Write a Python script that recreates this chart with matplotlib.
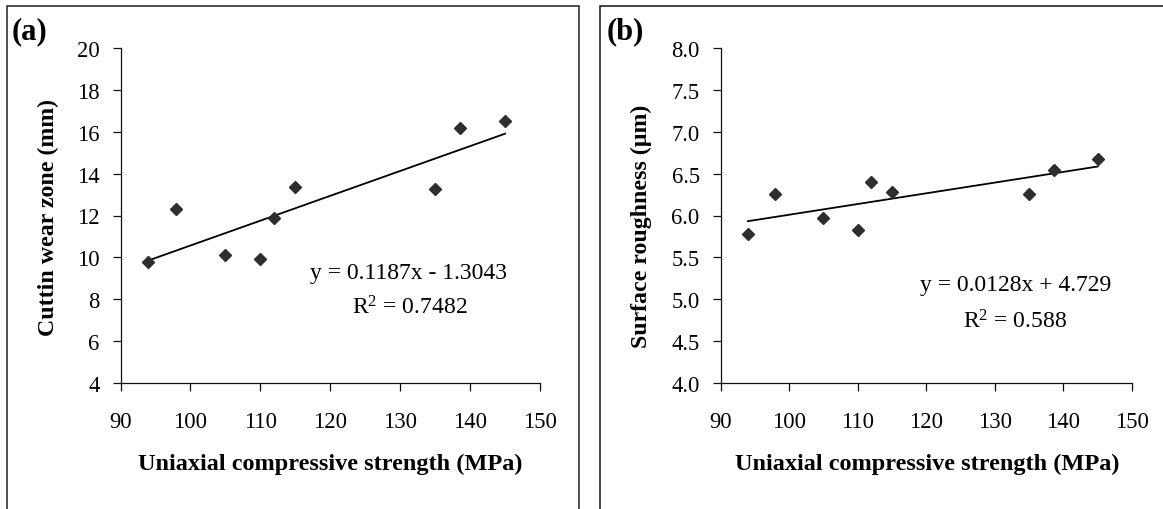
import numpy as np
import matplotlib.pyplot as plt
from matplotlib.patches import Rectangle

plt.rcParams['font.family'] = ['Liberation Serif', 'DejaVu Serif']
plt.rcParams['mathtext.fontset'] = 'custom'
plt.rcParams['mathtext.rm'] = 'Liberation Serif'
plt.rcParams['mathtext.it'] = 'Liberation Serif:italic'

# Uniaxial compressive strength (MPa)
ucs = [94, 98, 105, 110, 112, 115, 135, 138.6, 145]

# (a) cutting wear zone (mm)
wear = [9.8, 12.3, 10.1, 9.9, 11.9, 13.35, 13.25, 16.2, 16.5]
wear_fit = (0.1187, -1.3043)
wear_r2 = 0.7482

# (b) surface roughness (um)
rough = [5.78, 6.26, 5.97, 5.83, 6.40, 6.28, 6.26, 6.54, 6.67]
rough_fit = (0.0128, 4.729)
rough_r2 = 0.588

xticks = [90, 100, 110, 120, 130, 140, 150]
wear_ticks = [4, 6, 8, 10, 12, 14, 16, 18, 20]
rough_ticks = [4.0, 4.5, 5.0, 5.5, 6.0, 6.5, 7.0, 7.5, 8.0]

W, H = 1163, 510
fig = plt.figure(figsize=(W / 100, H / 100), dpi=100)


def fx(px):
    return px / W


def fy(py):
    return 1 - py / H


# panel frames
fig.add_artist(Rectangle((fx(6.7), fy(530)), fx(579 - 6.7), (530 - 6.7) / H,
                         transform=fig.transFigure, fill=False,
                         edgecolor='#222222', linewidth=1.1))
fig.add_artist(Rectangle((fx(600), fy(530)), fx(600), (530 - 6.7) / H,
                         transform=fig.transFigure, fill=False,
                         edgecolor='#111111', linewidth=1.1))


def panel(left, right, yvals, fit, r2, yticks, ylim, yfmt, ylabel,
          tag, tag_x, eq, eq_xy, r2_xy, ylab_xy, xlab_xy):
    ax = fig.add_axes([fx(left), fy(384), fx(right - left), (384 - 49) / H])
    ax.plot(ucs, yvals, linestyle='none', marker='D', markersize=6.2,
            color='#2e2e2e', zorder=3)
    xs = np.array([min(ucs), max(ucs)])
    ax.plot(xs, fit[0] * xs + fit[1], color='black', linewidth=1.3)
    ax.set_xlim(90, 150)
    ax.set_ylim(*ylim)
    ax.set_xticks(xticks)
    ax.set_yticks(yticks)
    ax.set_yticklabels([yfmt.format(v) for v in yticks])
    ax.spines['top'].set_visible(False)
    ax.spines['right'].set_visible(False)
    for s in ('left', 'bottom'):
        ax.spines[s].set_linewidth(0.9)
        ax.spines[s].set_color('#111111')
    ax.tick_params(direction='out', length=6, width=0.9, labelsize=16.3,
                   color='#111111')
    ax.tick_params(axis='y', pad=9)
    ax.tick_params(axis='x', pad=14)
    ax.patch.set_alpha(0)

    fig.text(fx(ylab_xy[0]), fy(ylab_xy[1]), ylabel, rotation=90,
             ha='center', va='center', fontsize=17.2, fontweight='bold')
    fig.text(fx(xlab_xy[0]), fy(xlab_xy[1]),
             'Uniaxial compressive strength (MPa)',
             ha='center', va='center', fontsize=17.5, fontweight='bold')
    fig.text(fx(tag_x), fy(32), tag, ha='left', va='center',
             fontsize=22, fontweight='bold')
    fig.text(fx(eq_xy[0]), fy(eq_xy[1]), eq, ha='center', va='center',
             fontsize=17)
    fig.text(fx(r2_xy[0]), fy(r2_xy[1]), f'R$^2$ = {r2}', ha='center',
             va='center', fontsize=17)
    return ax


panel(120.5, 540, wear, wear_fit, wear_r2, wear_ticks, (4, 20), '{:d}',
      'Cuttin wear zone (mm)', '(a)', 12,
      'y = 0.1187x - 1.3043', (408, 273), (410, 308), (48, 218), (330, 464))

panel(720.5, 1132, rough, rough_fit, rough_r2, rough_ticks, (4, 8), '{:.1f}',
      'Surface roughness (\u00b5m)', '(b)', 607,
      'y = 0.0128x + 4.729', (1016, 285), (1015, 322), (641, 226), (927, 464))

fig.savefig('out.png', dpi=100)
